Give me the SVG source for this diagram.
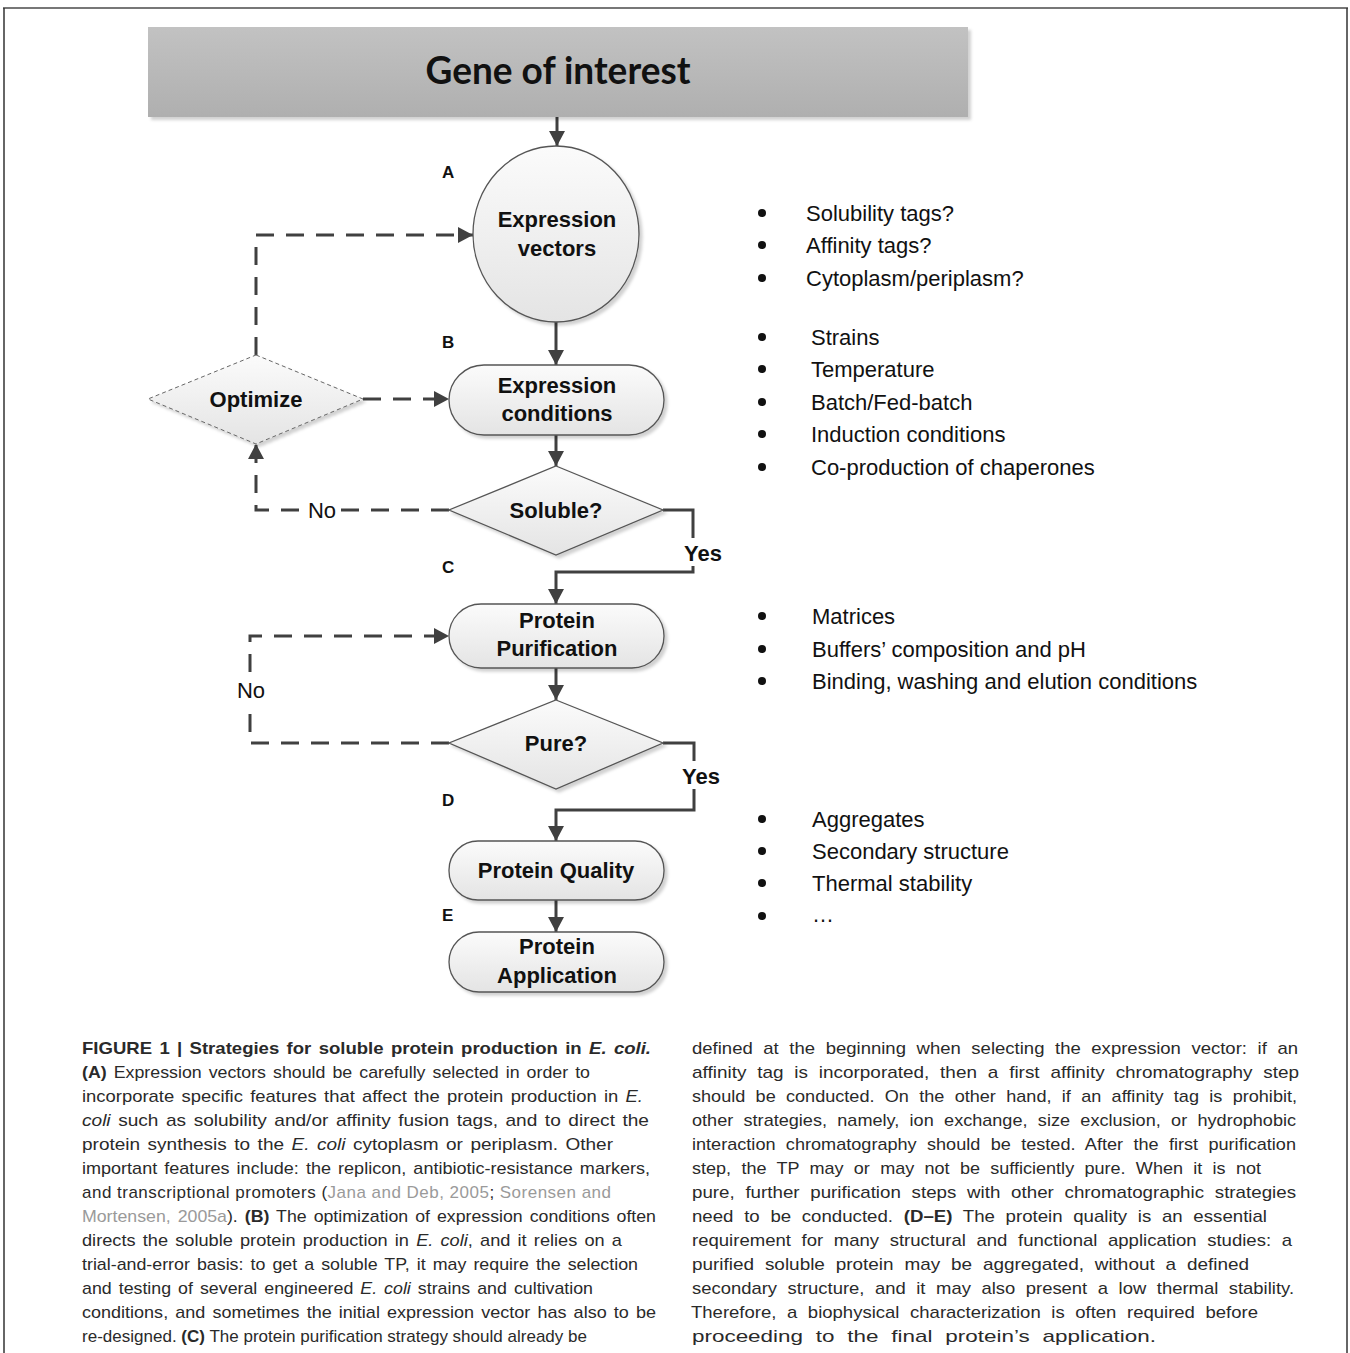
<svg xmlns="http://www.w3.org/2000/svg" width="1350" height="1353" viewBox="0 0 1350 1353">
<style>
.node{stroke:#555;stroke-width:1.3;fill:url(#ng)}
.lbl{font-family:"Liberation Sans",Arial,sans-serif;font-weight:bold;font-size:22px;fill:#111;text-anchor:middle}
.let{font-family:"Liberation Sans",Arial,sans-serif;font-weight:bold;font-size:17px;fill:#111}
.bul{font-family:"Liberation Sans",Arial,sans-serif;font-size:22px;fill:#111}
.con{fill:none;stroke:#404040;stroke-width:3}
.dash{fill:none;stroke:#404040;stroke-width:3;stroke-dasharray:18 12}
.cap{font-family:"Liberation Sans",Arial,sans-serif;font-size:17px;fill:#2a2a2a}
.capr{word-spacing:5px}
.ws{word-spacing:2px}
.b{font-weight:bold}
.i{font-style:italic}
.g{fill:#9a9a9a}
</style>
<defs>
<linearGradient id="ng" x1="0" y1="0" x2="0" y2="1"><stop offset="0" stop-color="#fbfbfb"/><stop offset="1" stop-color="#e4e4e4"/></linearGradient>
<linearGradient id="gg" x1="0" y1="0" x2="0" y2="1"><stop offset="0" stop-color="#c2c2c2"/><stop offset="1" stop-color="#afafaf"/></linearGradient>
<filter id="sh" x="-10%" y="-10%" width="130%" height="130%"><feDropShadow dx="3" dy="3" stdDeviation="1.5" flood-color="#000" flood-opacity="0.18"/></filter>
<marker id="ah" markerUnits="userSpaceOnUse" markerWidth="16" markerHeight="16" refX="15" refY="8" orient="auto"><path d="M0,0 L15,8 L0,16 z" fill="#404040"/></marker>
</defs>
<rect width="1350" height="1353" fill="#fff"/>
<g id="frame" fill="none">
<line x1="3" y1="8" x2="1348" y2="8" stroke="#777" stroke-width="2"/>
<line x1="4" y1="8" x2="4" y2="1353" stroke="#333" stroke-width="1.5"/>
<line x1="1347" y1="8" x2="1347" y2="1353" stroke="#333" stroke-width="1.5"/>
</g>
<g id="connectors">
<line class="con" x1="557" y1="117" x2="557" y2="146" marker-end="url(#ah)"/>
<line class="con" x1="556" y1="322" x2="556" y2="365" marker-end="url(#ah)"/>
<line class="con" x1="556" y1="435" x2="556" y2="466" marker-end="url(#ah)" stroke="#111"/>
<polyline class="con" points="663,510 693,510 693,572 556,572 556,604" marker-end="url(#ah)"/>
<line class="con" x1="556" y1="668" x2="556" y2="700" marker-end="url(#ah)"/>
<polyline class="con" points="663,743 694,743 694,810 556,810 556,841" marker-end="url(#ah)"/>
<line class="con" x1="556" y1="900" x2="556" y2="932" marker-end="url(#ah)"/>
<polyline class="dash" points="256,355 256,235 473,235" marker-end="url(#ah)"/>
<line class="dash" x1="363" y1="399" x2="449" y2="399" marker-end="url(#ah)"/>
<polyline class="dash" points="449,510 256,510 256,444" marker-end="url(#ah)"/>
<polyline class="dash" points="449,743 250,743 250,636 449,636" marker-end="url(#ah)"/>
<rect x="304" y="498" width="36" height="24" fill="#fff"/>
<text class="bul" x="322" y="518" text-anchor="middle">No</text>
<rect x="234" y="674" width="34" height="34" fill="#fff"/>
<text class="bul" x="251" y="698" text-anchor="middle">No</text>
<rect x="680" y="538" width="48" height="28" fill="#fff"/>
<text class="lbl" x="703" y="561">Yes</text>
<rect x="678" y="761" width="48" height="28" fill="#fff"/>
<text class="lbl" x="701" y="784">Yes</text>
</g>
<g id="gene">
<rect x="148" y="27" width="820" height="90" fill="url(#gg)" filter="url(#sh)"/>
<text x="558" y="84" font-family="Lato,'Open Sans',sans-serif" font-weight="bold" font-size="38" fill="#111" text-anchor="middle" textLength="265" lengthAdjust="spacingAndGlyphs">Gene of interest</text>
</g>
<g id="expression-vectors">
<ellipse class="node" cx="556" cy="234" rx="83" ry="88" filter="url(#sh)"/>
<text class="lbl" x="557" y="227">Expression</text>
<text class="lbl" x="557" y="256">vectors</text>
<text class="let" x="442" y="178">A</text>
</g>
<g id="expression-conditions">
<rect class="node" x="449" y="365" width="215" height="70" rx="35" filter="url(#sh)"/>
<text class="lbl" x="557" y="393">Expression</text>
<text class="lbl" x="557" y="421">conditions</text>
<text class="let" x="442" y="348">B</text>
</g>
<g id="optimize">
<polygon points="256,355 363,399 256,444 148,399" fill="url(#ng)" stroke="#666" stroke-width="1" stroke-dasharray="4 3" filter="url(#sh)"/>
<text class="lbl" x="256" y="407">Optimize</text>
</g>
<g id="soluble">
<polygon class="node" points="556,466 663,510 556,555 449,510" filter="url(#sh)"/>
<text class="lbl" x="556" y="518">Soluble?</text>
</g>
<g id="protein-purification">
<rect class="node" x="449" y="604" width="215" height="64" rx="32" filter="url(#sh)"/>
<text class="lbl" x="557" y="628">Protein</text>
<text class="lbl" x="557" y="656">Purification</text>
<text class="let" x="442" y="573">C</text>
</g>
<g id="pure">
<polygon class="node" points="556,700 663,743 556,789 449,743" filter="url(#sh)"/>
<text class="lbl" x="556" y="751">Pure?</text>
</g>
<g id="protein-quality">
<rect class="node" x="449" y="841" width="215" height="59" rx="29" filter="url(#sh)"/>
<text class="lbl" x="556" y="878">Protein Quality</text>
<text class="let" x="442" y="806">D</text>
</g>
<g id="protein-application">
<rect class="node" x="449" y="932" width="215" height="60" rx="30" filter="url(#sh)"/>
<text class="lbl" x="557" y="954">Protein</text>
<text class="lbl" x="557" y="983">Application</text>
<text class="let" x="442" y="921">E</text>
</g>
<g id="bullets">
<g fill="#111"><circle cx="762" cy="213" r="4"/><circle cx="762" cy="245" r="4"/><circle cx="762" cy="278" r="4"/>
<circle cx="762" cy="337" r="4"/><circle cx="762" cy="369" r="4"/><circle cx="762" cy="402" r="4"/><circle cx="762" cy="434" r="4"/><circle cx="762" cy="467" r="4"/>
<circle cx="762" cy="616" r="4"/><circle cx="762" cy="649" r="4"/><circle cx="762" cy="681" r="4"/>
<circle cx="762" cy="819" r="4"/><circle cx="762" cy="851" r="4"/><circle cx="762" cy="883" r="4"/><circle cx="762" cy="916" r="4"/></g>
<text class="bul" x="806" y="221">Solubility tags?</text>
<text class="bul" x="806" y="253">Affinity tags?</text>
<text class="bul" x="806" y="286">Cytoplasm/periplasm?</text>
<text class="bul" x="811" y="345">Strains</text>
<text class="bul" x="811" y="377">Temperature</text>
<text class="bul" x="811" y="410">Batch/Fed-batch</text>
<text class="bul" x="811" y="442">Induction conditions</text>
<text class="bul" x="811" y="475">Co-production of chaperones</text>
<text class="bul" x="812" y="624">Matrices</text>
<text class="bul" x="812" y="657">Buffers’ composition and pH</text>
<text class="bul" x="812" y="689">Binding, washing and elution conditions</text>
<text class="bul" x="812" y="827">Aggregates</text>
<text class="bul" x="812" y="859">Secondary structure</text>
<text class="bul" x="812" y="891">Thermal stability</text>
<text class="bul" x="812" y="922">…</text>
</g>
<g id="caption" class="cap">
<text class="ws" x="82" y="1054" textLength="569" lengthAdjust="spacingAndGlyphs"><tspan class="b">FIGURE 1 | Strategies for soluble protein production in <tspan class="i">E. coli.</tspan></tspan></text>
<text class="ws" x="82" y="1078" textLength="508" lengthAdjust="spacingAndGlyphs"><tspan class="b">(A)</tspan> Expression vectors should be carefully selected in order to</text>
<text class="ws" x="82" y="1102" textLength="561" lengthAdjust="spacingAndGlyphs">incorporate specific features that affect the protein production in <tspan class="i">E.</tspan></text>
<text class="ws" x="82" y="1126" textLength="567" lengthAdjust="spacingAndGlyphs"><tspan class="i">coli</tspan> such as solubility and/or affinity fusion tags, and to direct the</text>
<text class="ws" x="82" y="1150" textLength="531" lengthAdjust="spacingAndGlyphs">protein synthesis to the <tspan class="i">E. coli</tspan> cytoplasm or periplasm. Other</text>
<text class="ws" x="82" y="1174" textLength="568" lengthAdjust="spacingAndGlyphs">important features include: the replicon, antibiotic-resistance markers,</text>
<text x="82" y="1198" textLength="529" lengthAdjust="spacing">and transcriptional promoters (<tspan class="g">Jana and Deb, 2005</tspan>; <tspan class="g">Sorensen and</tspan></text>
<text class="ws" x="82" y="1222" textLength="574" lengthAdjust="spacingAndGlyphs"><tspan class="g">Mortensen, 2005a</tspan>). <tspan class="b">(B)</tspan> The optimization of expression conditions often</text>
<text class="ws" x="82" y="1246" textLength="540" lengthAdjust="spacingAndGlyphs">directs the soluble protein production in <tspan class="i">E. coli</tspan>, and it relies on a</text>
<text class="ws" x="82" y="1270" textLength="556" lengthAdjust="spacingAndGlyphs">trial-and-error basis: to get a soluble TP, it may require the selection</text>
<text class="ws" x="82" y="1294" textLength="511" lengthAdjust="spacingAndGlyphs">and testing of several engineered <tspan class="i">E. coli</tspan> strains and cultivation</text>
<text class="ws" x="82" y="1318" textLength="574" lengthAdjust="spacingAndGlyphs">conditions, and sometimes the initial expression vector has also to be</text>
<text x="82" y="1342" textLength="505" lengthAdjust="spacing">re-designed. <tspan class="b">(C)</tspan> The protein purification strategy should already be</text>
<g class="capr">
<text x="692" y="1054" textLength="606" lengthAdjust="spacingAndGlyphs">defined at the beginning when selecting the expression vector: if an</text>
<text x="692" y="1078" textLength="607" lengthAdjust="spacingAndGlyphs">affinity tag is incorporated, then a first affinity chromatography step</text>
<text x="692" y="1102" textLength="605" lengthAdjust="spacingAndGlyphs">should be conducted. On the other hand, if an affinity tag is prohibit,</text>
<text x="692" y="1126" textLength="604" lengthAdjust="spacingAndGlyphs">other strategies, namely, ion exchange, size exclusion, or hydrophobic</text>
<text x="692" y="1150" textLength="604" lengthAdjust="spacingAndGlyphs">interaction chromatography should be tested. After the first purification</text>
<text x="692" y="1174" textLength="569" lengthAdjust="spacingAndGlyphs">step, the TP may or may not be sufficiently pure. When it is not</text>
<text x="692" y="1198" textLength="604" lengthAdjust="spacingAndGlyphs">pure, further purification steps with other chromatographic strategies</text>
<text x="692" y="1222" textLength="575" lengthAdjust="spacingAndGlyphs">need to be conducted. <tspan class="b">(D–E)</tspan> The protein quality is an essential</text>
<text x="692" y="1246" textLength="600" lengthAdjust="spacingAndGlyphs">requirement for many structural and functional application studies: a</text>
<text x="692" y="1270" textLength="557" lengthAdjust="spacingAndGlyphs">purified soluble protein may be aggregated, without a defined</text>
<text x="692" y="1294" textLength="602" lengthAdjust="spacingAndGlyphs">secondary structure, and it may also present a low thermal stability.</text>
<text x="691" y="1318" textLength="567" lengthAdjust="spacingAndGlyphs">Therefore, a biophysical characterization is often required before</text>
<text x="692" y="1342" textLength="464" lengthAdjust="spacingAndGlyphs">proceeding to the final protein’s application.</text>
</g>
</g>
</svg>
